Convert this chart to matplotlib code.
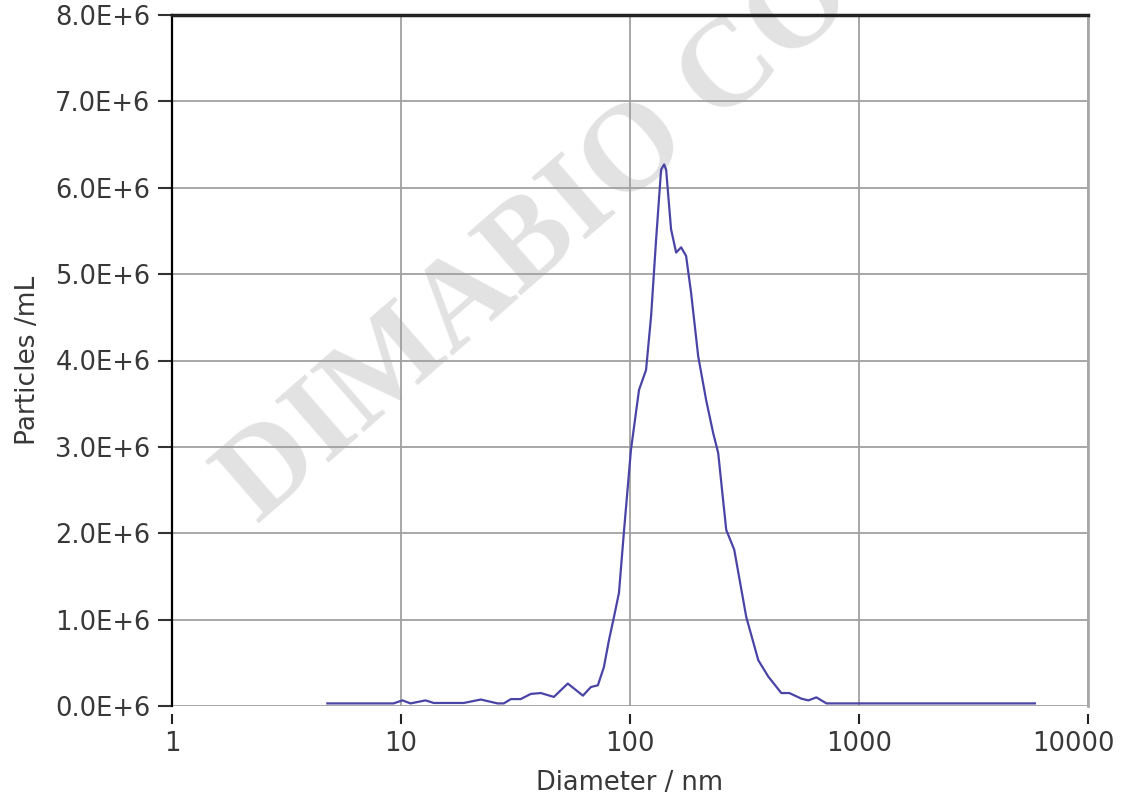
import matplotlib
matplotlib.use("Agg")
import matplotlib.pyplot as plt
from matplotlib.ticker import FixedLocator, FuncFormatter, NullLocator
from matplotlib.transforms import ScaledTranslation

# size distribution (diameter in nm, particles/mL in 1E6)
diameter = [4.77, 9.27, 10.15, 11.0, 12.8, 13.9, 18.8, 22.3, 26.4, 28.1, 30.2,
            33.3, 36.9, 40.8, 46.5, 53.5, 62.3, 67.5, 72.4, 76.9, 80.9, 85.1,
            89.5, 94.1, 101.0, 109.5, 117.5, 123.6, 130.0, 136.7, 140.9, 143.8,
            151.1, 159.0, 167.2, 175.8, 184.9, 198.5, 215.1, 230.8, 242.7,
            263.1, 285.2, 321.9, 363.3, 401.8, 457.9, 496.3, 560.2, 601.2,
            651.6, 720.7, 5863]
conc = [0.03, 0.03, 0.065, 0.03, 0.065, 0.035, 0.035, 0.075, 0.03, 0.03,
        0.08, 0.08, 0.14, 0.15, 0.105, 0.26, 0.12, 0.22, 0.24, 0.45, 0.76,
        1.03, 1.31, 2.02, 2.97, 3.66, 3.89, 4.51, 5.40, 6.21, 6.27, 6.21, 5.52,
        5.25, 5.31, 5.21, 4.78, 4.05, 3.54, 3.16, 2.93, 2.04, 1.81, 1.03, 0.53,
        0.34, 0.15, 0.15, 0.085, 0.065, 0.10, 0.03, 0.03]
conc = [c * 1e6 for c in conc]

x_ticks = [1, 10, 100, 1000, 10000]
y_ticks = [i * 1e6 for i in range(9)]

W, H = 1129, 797
fig = plt.figure(figsize=(W / 100, H / 100), dpi=100)
# axes box in pixels: left 172, right 1088, top 15, bottom 706
ax = fig.add_axes([172 / W, 1 - 706 / H, (1088 - 172) / W, (706 - 15) / H])

# watermark (behind grid and curve)
ax.text(0.413, 0.688, "DIMABIO CO.", transform=ax.transAxes, rotation=41,
        fontsize=90, family="Liberation Serif", weight="bold", color="#e2e2e2",
        ha="center", va="center", zorder=0, clip_on=False)

ax.plot(diameter, conc, color="#4a44a6", lw=1.6, zorder=3)

ax.set_xscale("log")
ax.set_xlim(1, 10000)
ax.set_ylim(0, 8e6)
ax.xaxis.set_major_locator(FixedLocator(x_ticks))
ax.xaxis.set_minor_locator(NullLocator())
ax.xaxis.set_major_formatter(FuncFormatter(lambda v, p: f"{v:g}"))
ax.yaxis.set_major_locator(FixedLocator(y_ticks))
ax.yaxis.set_major_formatter(FuncFormatter(lambda v, p: f"{v/1e6:.1f}E+6"))

ax.grid(True, color="#a0a0a0", lw=1.3, zorder=1)
ax.tick_params(axis="x", direction="out", length=7, width=1.5, color="#222222",
               labelsize=18.5, pad=5, labelcolor="#383838")
ax.tick_params(axis="y", direction="out", length=10, width=1.5, color="#333333",
               labelsize=18.5, pad=5.5, labelcolor="#383838")

ax.spines["left"].set_color("black")
ax.spines["left"].set_linewidth(1.6)
ax.spines["top"].set_color("#222222")
ax.spines["top"].set_linewidth(2.5)
ax.spines["right"].set_color("#a8a8a8")
ax.spines["right"].set_linewidth(2.0)
# bottom border is the zero gridline; x ticks sit a little below it
ax.spines["bottom"].set_position(("outward", 6))
ax.spines["bottom"].set_color("none")

ax.set_xlabel("Diameter / nm", fontsize=18.5, color="#383838", labelpad=9)
ax.set_ylabel("Particles /mL", fontsize=19, color="#383838", labelpad=10)

# last x label is pulled left so it stays inside the picture
fig.canvas.draw()
last = ax.get_xticklabels()[-1]
last.set_transform(last.get_transform() + ScaledTranslation(-15 / 100, 0, fig.dpi_scale_trans))

fig.savefig("out.png", dpi=100)
